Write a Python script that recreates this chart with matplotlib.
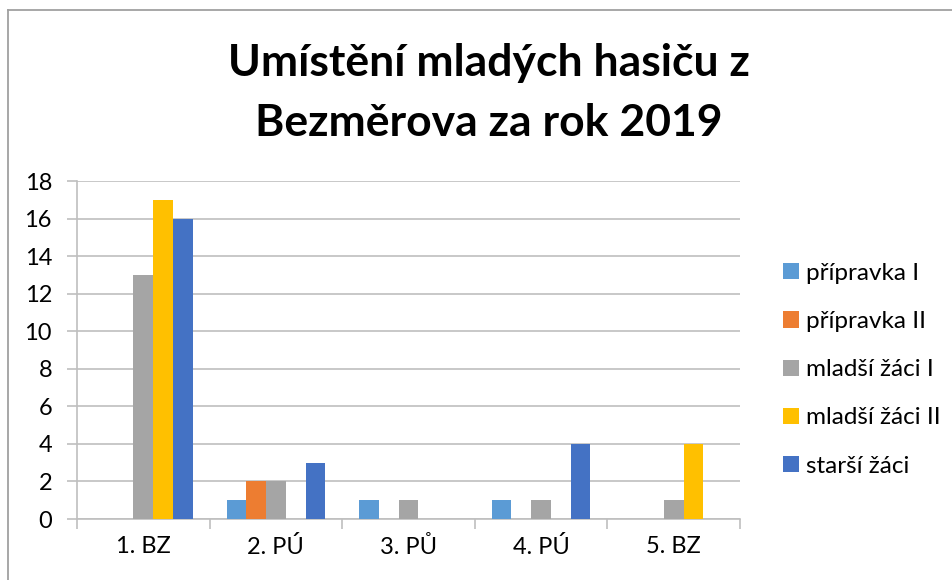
"""Umístění mladých hasičů z Bezměrova - grouped bar chart."""

import numpy as np
import matplotlib
matplotlib.use("Agg")
from matplotlib import pyplot as plt

categories = ["1. BZ", "2. PÚ", "3. PŮ", "4. PÚ", "5. BZ"]
series_names = ["přípravka I", "přípravka II", "mladší žáci I", "mladší žáci II", "starší žáci"]
pripravka_1 = [0, 1, 1, 1, 0]
pripravka_2 = [0, 2, 0, 0, 0]
mladsi_1 = [13, 2, 1, 1, 1]
mladsi_2 = [17, 0, 0, 0, 4]
starsi = [16, 3, 0, 4, 0]
y_ticks = list(range(0, 19, 2))

colors = ["#5B9BD5", "#ED7D31", "#A5A5A5", "#FFC000", "#4472C4"]
grid_color = "#BFBFBF"

plt.rcParams["font.family"] = ["Lato", "DejaVu Sans"]

fig = plt.figure(figsize=(9.53, 5.80), dpi=100)
ax = fig.add_axes([77 / 953, 61 / 580, 663 / 953, 338 / 580])

values = [pripravka_1, pripravka_2, mladsi_1, mladsi_2, starsi]
x = np.arange(len(categories))
width = 0.149
for i, (name, vals) in enumerate(zip(series_names, values)):
	ax.bar(x + (i - 2) * width, vals, width, color=colors[i], label=name, zorder=3)

ax.set_xlim(-0.5, len(categories) - 0.5)
ax.set_ylim(0, 18)
ax.set_yticks(y_ticks)
ax.set_xticks(x)
ax.set_xticklabels(categories)
ax.set_xticks(np.arange(-0.5, len(categories)), minor=True)
ax.tick_params(axis="x", which="major", length=0, pad=12, labelsize=17)
ax.tick_params(axis="x", which="minor", length=7, color=grid_color, width=1.2)
ax.tick_params(axis="y", length=7, color=grid_color, width=1.2, labelsize=17, pad=11)
ax.yaxis.grid(True, color=grid_color, linewidth=1.2, zorder=0)

for side in ("top", "right"):
	ax.spines[side].set_visible(False)
for side in ("left", "bottom"):
	ax.spines[side].set_color(grid_color)
	ax.spines[side].set_linewidth(1.2)

fig.text(0.513, 0.891, "Umístění mladých hasiču z", ha="center", va="center",
	fontsize=32, fontweight="bold")
fig.text(0.513, 0.788, "Bezměrova za rok 2019", ha="center", va="center",
	fontsize=32, fontweight="bold")

fig.legend(loc="upper left", bbox_to_anchor=(773 / 953, 1 - 253 / 580), frameon=False,
	fontsize=17.5, handlelength=0.65, handleheight=0.65, handletextpad=0.3,
	labelspacing=1.12, borderaxespad=0)

# chart area border (only left and top edges visible)
fig.add_artist(plt.Line2D([8.5 / 953, 8.5 / 953], [0, 1 - 10 / 580], transform=fig.transFigure,
	color="#A0A0A0", linewidth=1.3))
fig.add_artist(plt.Line2D([8.5 / 953, 1], [1 - 10 / 580, 1 - 10 / 580], transform=fig.transFigure,
	color="#A0A0A0", linewidth=1.3))

fig.savefig("out.png", dpi=100)
